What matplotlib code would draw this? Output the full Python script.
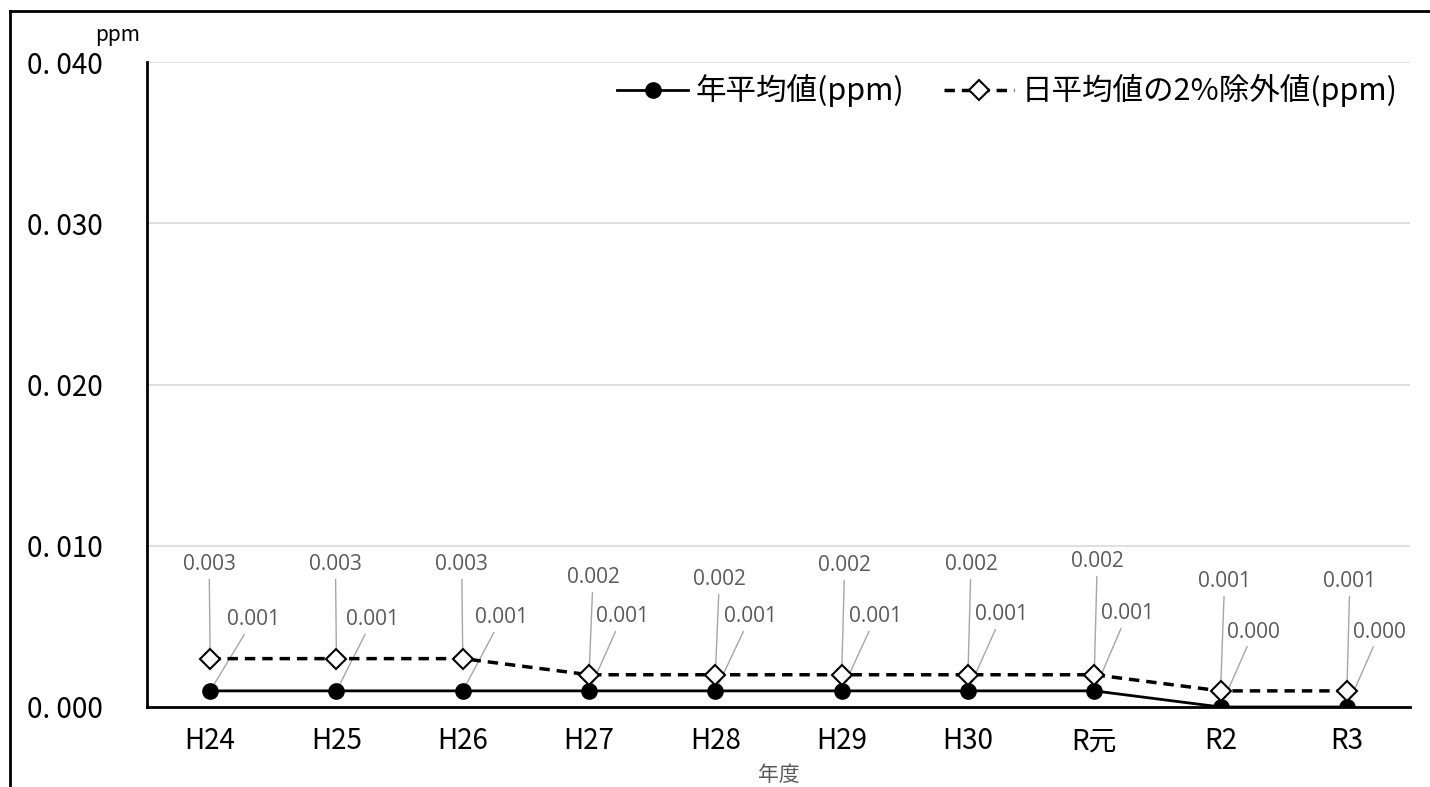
import matplotlib.pyplot as plt
from matplotlib.lines import Line2D

# data
years = ["H24", "H25", "H26", "H27", "H28", "H29", "H30", "R元", "R2", "R3"]
annual_mean = [0.001, 0.001, 0.001, 0.001, 0.001, 0.001, 0.001, 0.001, 0.000, 0.000]
daily_2pct = [0.003, 0.003, 0.003, 0.002, 0.002, 0.002, 0.002, 0.002, 0.001, 0.001]
y_ticks = [0.000, 0.010, 0.020, 0.030, 0.040]
y_tick_labels = ["0. 000", "0. 010", "0. 020", "0. 030", "0. 040"]

# label offsets (pixels) as placed by hand in the original
daily_offsets = [(-1, 94), (-1, 94), (-1, 94), (4, 97), (4, 95), (3, 109), (3, 110), (3, 113), (4, 109), (3, 109)]
annual_offsets = [(43, 71), (36, 71), (39, 73), (33, 74), (35, 74), (34, 74), (34, 76), (33, 77), (33, 75), (33, 75)]

JP = ["Noto Sans CJK JP", "DejaVu Sans"]
LABEL_FONT = ["Open Sans", "DejaVu Sans"]
plt.rcParams["font.family"] = JP

fig = plt.figure(figsize=(14.3, 7.87), dpi=100)
ax = fig.add_axes([147 / 1430, 1 - 707 / 787, 1263 / 1430, 645 / 787])

x = list(range(len(years)))
ax.plot(x, annual_mean, color="black", lw=2, marker="o", ms=11, zorder=4)
ax.plot(x, daily_2pct, color="black", lw=2.5, ls=(0, (3, 2)), marker="D", ms=10.5,
        mfc="white", mec="black", mew=1.5, zorder=5)

arrow = dict(arrowstyle="-", color="#a6a6a6", lw=1, shrinkA=1, shrinkB=0)
for i in x:
    ax.annotate(f"{daily_2pct[i]:.3f}", (i, daily_2pct[i]), xytext=daily_offsets[i],
                textcoords="offset pixels", ha="center", va="center", color="#595959",
                fontsize=15, family=LABEL_FONT, arrowprops=arrow, zorder=3)
    ax.annotate(f"{annual_mean[i]:.3f}", (i, annual_mean[i]), xytext=annual_offsets[i],
                textcoords="offset pixels", ha="center", va="center", color="#595959",
                fontsize=15, family=LABEL_FONT, arrowprops=arrow, zorder=3)

ax.set_xlim(-0.5, len(years) - 0.5)
ax.set_ylim(0, 0.040)
ax.set_yticks(y_ticks)
ax.set_yticklabels(y_tick_labels, fontsize=20)
ax.set_xticks(x)
ax.set_xticklabels(years, fontsize=20)
ax.tick_params(axis="both", length=0)
ax.tick_params(axis="x", pad=14)
ax.tick_params(axis="y", pad=32)
ax.grid(axis="y", color="#d9d9d9", lw=1.2)
ax.set_axisbelow(True)
for side in ["top", "right"]:
    ax.spines[side].set_visible(False)
ax.spines["left"].set_linewidth(2)
ax.spines["bottom"].set_linewidth(2)

ax.set_xlabel("年度", fontsize=15, color="#595959", va="center")
ax.xaxis.set_label_coords(0.5, (707 - 775) / 645)
fig.text(118 / 1430, 1 - 35 / 787, "ppm", fontsize=15, ha="center", va="center")

handles = [
    Line2D([], [], color="black", lw=2, marker="o", ms=11),
    Line2D([], [], color="black", lw=2.5, ls=(0, (3, 2)), marker="D", ms=10.5, mfc="white", mec="black", mew=1.5),
]
ax.legend(handles, ["年平均値(ppm)", "日平均値の2%除外値(ppm)"], loc="upper right",
          bbox_to_anchor=(1.0, 1.0), ncol=2, frameon=False, fontsize=22,
          handlelength=2.3, handletextpad=0.25, columnspacing=1.3, borderaxespad=0)

# outer chart frame (cropped at bottom and right)
fig.add_artist(Line2D([10 / 1430, 1.0], [1 - 11 / 787] * 2, color="black", lw=2, transform=fig.transFigure))
fig.add_artist(Line2D([10 / 1430] * 2, [0, 1 - 11 / 787], color="black", lw=2, transform=fig.transFigure))

plt.savefig("out.png")
